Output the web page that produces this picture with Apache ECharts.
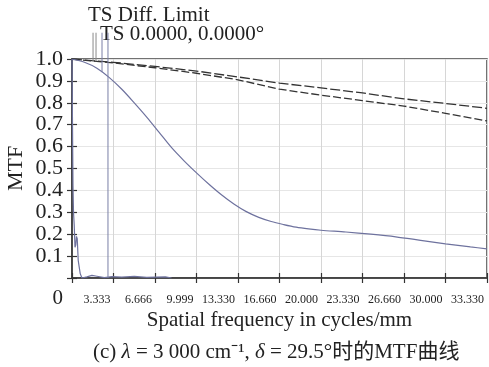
<!DOCTYPE html>
<html>
<head>
<meta charset="utf-8">
<script src="https://cdn.jsdelivr.net/npm/echarts@6/dist/echarts.min.js"></script>
<style>
html,body{margin:0;padding:0;background:#fff;}
#chart{width:489px;height:367px;}
</style>
</head>
<body>
<div id="chart"></div>
<script>
// MTF 曲线：衍射极限 T/S（虚线）+ 视场 0° 的 T/S 曲线
const FONT='"Liberation Serif","Times New Roman",serif';
const xTickLabels=['0','3.333','6.666','9.999','13.330','16.660','20.000','23.330','26.660','30.000','33.330'];

// 衍射极限（两条近似直线的虚线）
const dlFreq=[0,3.333,6.666,10,13.33,16.66,20,23.33,26.66,30,33.33];
const dlT=[1.0,0.985,0.966,0.945,0.918,0.89,0.868,0.845,0.818,0.797,0.775];
const dlS=[1.0,0.982,0.96,0.935,0.905,0.862,0.835,0.81,0.785,0.752,0.717];

// 0° 视场 T 曲线
const tFreq=[0,1,2,3,4,5,6,7,8,9,10,11,12,13,14,15,16,17,18,19,20,22,24,26,28,30,32,33.33];
const tMtf=[1.0,0.985,0.958,0.915,0.862,0.8,0.735,0.665,0.595,0.535,0.48,0.428,0.38,0.338,0.303,0.277,0.258,0.244,0.232,0.224,0.218,0.21,0.2,0.188,0.172,0.156,0.142,0.133];

// 0° 视场 S 曲线（迅速跌到 0）
const sFreq=[0,0.04,0.08,0.12,0.18,0.24,0.3,0.36,0.42,0.5,0.58,0.66,0.8,1.2,1.6,2.0,2.6,3.2,4,5,6,7.5,8];
const sMtf=[1.0,0.7,0.42,0.3,0.24,0.14,0.15,0.19,0.18,0.08,0.05,0.02,0.0,0.005,0.012,0.008,0.002,0.006,0.004,0.007,0.003,0.005,0.0];

// 图例引线：x 位置（频率）与下端 MTF
const leaderFreq=[1.69,1.93,2.41,2.89];
const leaderEnd=[0.99,0.99,0.94,0.0];
const leaderTop=1.12;
const leaderColor=['#8a8a8a','#8a8a8a','#7a7fa6','#7a7fa6'];

const pairs=(xs,ys)=>xs.map((x,i)=>[x,ys[i]]);

const chart=echarts.init(document.getElementById('chart'));
const axisCommon={
  min:0, splitNumber:10,
  axisLine:{show:true,lineStyle:{color:'#444',width:1.5}},
  axisTick:{show:true,inside:true,length:5,lineStyle:{color:'#333',width:1.2}},
};
chart.setOption({
  animation:false,
  textStyle:{fontFamily:FONT},
  grid:{left:72,right:2,top:59,bottom:89,outerBoundsMode:'none',containLabel:false,
    show:true,borderColor:'#444',borderWidth:1.5},
  xAxis:[
    {...axisCommon,type:'value',max:33.33,interval:3.333,position:'bottom',
     name:'Spatial frequency in cycles/mm',nameLocation:'middle',nameGap:32,nameMoveOverlap:false,
     nameTextStyle:{fontFamily:FONT,fontSize:21,color:'#222'},
     splitLine:{show:true,lineStyle:{color:'#d6d6d6',width:1}},
     axisLabel:{margin:16,align:'right',padding:[0,3,0,0],fontFamily:FONT,fontSize:12,color:'#222',
       formatter:v=>{const i=Math.round(v/3.333);return i===0?'{z|0}':xTickLabels[i];},
       rich:{z:{fontFamily:FONT,fontSize:21,lineHeight:8,color:'#222',padding:[0,6,0,0]}}}},
    {...axisCommon,type:'value',max:33.33,interval:3.333,position:'top',
     axisLabel:{show:false},splitLine:{show:false}}
  ],
  yAxis:[
    {...axisCommon,type:'value',max:1,interval:0.1,position:'left',
     name:'MTF',nameLocation:'middle',nameGap:45,nameMoveOverlap:false,
     nameTextStyle:{fontFamily:FONT,fontSize:22,color:'#222'},
     splitLine:{show:true,lineStyle:{color:'#e6e6e6',width:1}},
     axisLabel:{margin:9,fontFamily:FONT,fontSize:22,color:'#222',
       formatter:v=>v===0?'':v.toFixed(1)}},
    {...axisCommon,type:'value',max:1,interval:0.1,position:'right',
     axisLabel:{show:false},splitLine:{show:false}}
  ],
  graphic:[
    {type:'text',left:88,top:5,style:{text:'TS Diff. Limit',font:'21px '+FONT,fill:'#222'}},
    {type:'text',left:100,top:24,style:{text:'TS 0.0000, 0.0000°',font:'21px '+FONT,fill:'#222'}},
    {type:'text',left:93,top:342,style:{
      text:'(c) {i|λ} = 3 000 cm⁻¹, {i|δ} = 29.5°时的MTF曲线',
      font:'21px "Liberation Serif","Noto Sans CJK SC",serif',fill:'#222',
      rich:{i:{fontFamily:FONT,fontStyle:'italic',fontSize:21,fill:'#222'}}}}
  ],
  series:[
    {type:'line',data:pairs(dlFreq,dlT),showSymbol:false,
     lineStyle:{color:'#333',width:1.3,type:[10,3]}},
    {type:'line',data:pairs(dlFreq,dlS),showSymbol:false,
     lineStyle:{color:'#333',width:1.3,type:[8,3]}},
    {type:'line',data:pairs(tFreq,tMtf),showSymbol:false,smooth:0.3,
     lineStyle:{color:'#6e729e',width:1.2}},
    {type:'line',data:pairs(sFreq,sMtf),showSymbol:false,
     lineStyle:{color:'#6e729e',width:1.2}},
    ...leaderFreq.map((f,i)=>({type:'line',clip:false,showSymbol:false,silent:true,
      data:[[f,leaderTop],[f,leaderEnd[i]]],
      lineStyle:{color:leaderColor[i],width:1}}))
  ]
});
</script>
</body>
</html>
